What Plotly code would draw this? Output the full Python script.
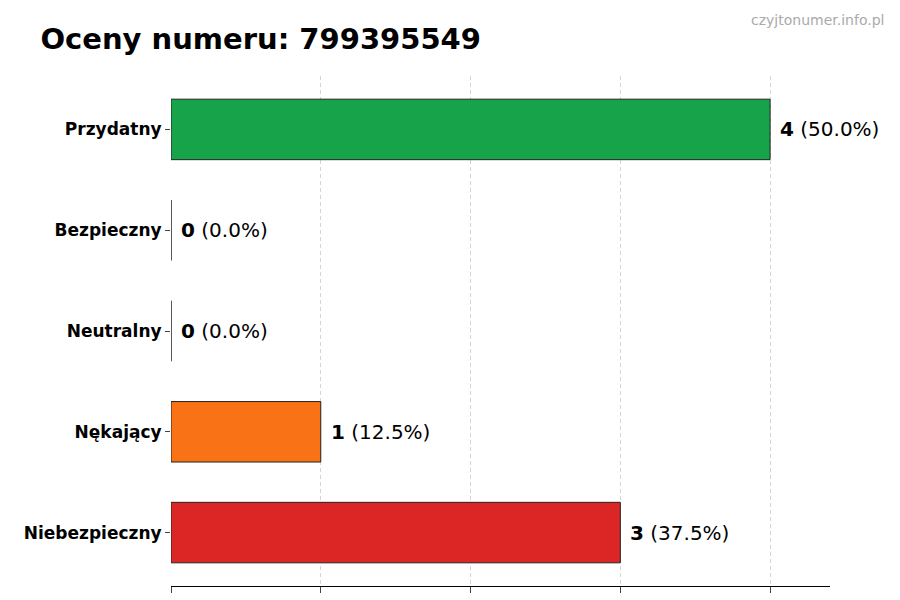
import plotly.graph_objects as go

categories = ["Niebezpieczny", "Nękający", "Neutralny", "Bezpieczny", "Przydatny"]
counts = [3, 1, 0, 0, 4]
percents = [37.5, 12.5, 0.0, 0.0, 50.0]
colors = ["#dc2626", "#f97316", "#9ca3af", "#3b82f6", "#16a34a"]

fig = go.Figure()
fig.add_trace(go.Bar(
    y=categories, x=counts, orientation="h", width=0.6,
    marker=dict(color=colors, line=dict(color="#222222", width=1)),
    hoverinfo="skip",
))
annotations = [dict(text="czyjtonumer.info.pl", xref="paper", yref="paper", x=1.085, y=1.13,
                    xanchor="right", showarrow=False, font=dict(size=14, color="#aaaaaa"))]
for cat, c, p in zip(categories, counts, percents):
    annotations.append(dict(x=c, y=cat, text=f"<b>{c}</b> ({p:.1f}%)", xanchor="left", xshift=8,
                            showarrow=False, font=dict(size=20, color="black", family="DejaVu Sans")))
fig.update_layout(
    width=900, height=600, plot_bgcolor="white", paper_bgcolor="white",
    margin=dict(l=163, r=78, t=68, b=22), showlegend=False,
    title=dict(text="<b>Oceny numeru: 799395549</b>", x=0.036, xanchor="left", y=0.965,
               font=dict(size=29, color="black", family="DejaVu Sans")),
    font=dict(family="DejaVu Sans"),
    annotations=annotations,
)
fig.update_xaxes(range=[0, 4.4], showticklabels=False, ticks="outside", ticklen=6, tickvals=[0, 1, 2, 3, 4],
                 showgrid=True, gridcolor="#d5d5d5", griddash="4px,3px", showline=True, linecolor="black",
                 zeroline=False)
fig.update_yaxes(range=[-0.53, 4.53], ticks="outside", ticklen=5, showline=False,
                 tickmode="array", tickvals=categories, ticktext=[f"<b>{c}</b>" for c in categories],
                 tickfont=dict(size=17, color="black", family="DejaVu Sans"),
                 categoryorder="array", categoryarray=categories)
fig.write_html("out.html")
